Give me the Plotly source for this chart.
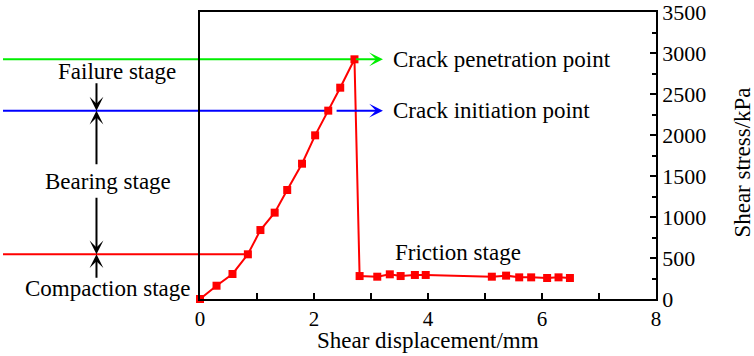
import plotly.graph_objects as go

# Data (shear displacement in mm, shear stress in kPa)
disp = [0.0, 0.29, 0.57, 0.84, 1.06, 1.31, 1.53, 1.79, 2.02, 2.25, 2.46, 2.71,
        2.80, 3.11, 3.33, 3.52, 3.77, 3.96, 5.12, 5.37, 5.60, 5.81, 6.09, 6.29, 6.49]
stress = [0, 162, 305, 545, 841, 1053, 1329, 1650, 1996, 2297, 2577, 2923,
          280, 272, 301, 280, 293, 293, 272, 285, 264, 264, 256, 264, 256]

x_ticks = [0, 2, 4, 6, 8]
y_ticks = [0, 500, 1000, 1500, 2000, 2500, 3000, 3500]
XMAX, YMAX = 8, 3500

i_comp, i_init, i_pen = 3, 9, 11  # indices of stage-boundary points

FONT = "Liberation Serif, Times New Roman, serif"

fig = go.Figure()
fig.add_trace(go.Scatter(
    x=disp, y=stress, mode="lines+markers",
    line=dict(color="#ff0000", width=2),
    marker=dict(symbol="square", size=8, color="#ff0000"),
    showlegend=False, cliponaxis=False, hoverinfo="skip",
))

shapes = []
left_x = -0.432
for idx, col in [(i_pen, "#00ee00"), (i_init, "#0000ff"), (i_comp, "#ff0000")]:
    shapes.append(dict(type="line", xref="paper", yref="paper", layer="below",
                       x0=left_x, x1=disp[idx] / XMAX,
                       y0=stress[idx] / YMAX, y1=stress[idx] / YMAX,
                       line=dict(color=col, width=2)))

ann = []
# Coloured arrows to the point labels
ann.append(dict(x=3.21, y=stress[i_pen], ax=disp[i_pen], ay=stress[i_pen], xref="x", yref="y",
                axref="x", ayref="y", text="", showarrow=True, arrowhead=3, arrowsize=1.15,
                arrowwidth=2, arrowcolor="#00ee00"))
ann.append(dict(x=3.21, y=stress[i_init], ax=2.37, ay=stress[i_init], xref="x", yref="y",
                axref="x", ayref="y", text="", showarrow=True, arrowhead=3, arrowsize=1.15,
                arrowwidth=2, arrowcolor="#0000ff"))

tf = dict(family=FONT, size=23, color="black")


def label(x, y, text, xanchor="center", xref="paper", yref="paper", angle=0):
    return dict(x=x, y=y, xref=xref, yref=yref, xanchor=xanchor, yanchor="middle",
                text=text, showarrow=False, font=tf, textangle=angle)


ann.append(label(0.419, stress[i_pen] / YMAX, "Crack penetration point", xanchor="left"))
ann.append(label(0.419, stress[i_init] / YMAX, "Crack initiation point", xanchor="left"))
ann.append(label(4.53, 573, "Friction stage", xref="x", yref="y"))
ann.append(label(-0.181, 0.791, "Failure stage"))
ann.append(label(-0.202, 0.408, "Bearing stage"))
ann.append(label(-0.203, 0.035, "Compaction stage"))

# Black stage arrows
ax_p = -0.227
for yv, off in [(stress[i_init], -29), (stress[i_init], 55), (stress[i_comp], -58), (stress[i_comp], 25)]:
    ann.append(dict(x=ax_p, y=yv / YMAX, xref="paper", yref="paper", ax=0, ay=off,
                    text="", showarrow=True, arrowhead=3, arrowsize=1.15, arrowwidth=2,
                    arrowcolor="black"))

# Axis titles
ann.append(label(1.19, 0.474, "Shear stress/kPa", angle=-90))
ann.append(label(0.5, -0.143, "Shear displacement/mm"))

fig.update_layout(
    width=754, height=356,
    margin=dict(l=200, r=98, t=12, b=57),
    paper_bgcolor="white", plot_bgcolor="rgba(0,0,0,0)",
    font=dict(family=FONT, size=22, color="black"),
    shapes=shapes, annotations=ann,
    xaxis=dict(range=[0, XMAX], tickvals=x_ticks, ticks="inside", ticklen=6, tickwidth=1.5,
               tickcolor="black", showgrid=False, zeroline=False, showline=True,
               linecolor="black", linewidth=1.5, mirror=True, automargin=False,
               ticklabeloverflow="allow",
               minor=dict(dtick=1, ticks="inside", ticklen=6, tickwidth=1.5, tickcolor="black", showgrid=False),
               tickfont=dict(size=21)),
    yaxis=dict(range=[0, YMAX], tickvals=y_ticks, side="right", ticks="inside", ticklen=6,
               tickwidth=1.5, tickcolor="black", showgrid=False, zeroline=False, showline=True,
               linecolor="black", linewidth=1.5, mirror=True, automargin=False,
               ticklabeloverflow="allow",
               minor=dict(dtick=250, ticks="inside", ticklen=4, tickwidth=1.5, tickcolor="black", showgrid=False),
               tickfont=dict(size=22)),
)

fig.write_html("out.html", config={"displayModeBar": False},
               post_script="document.body.style.margin='0';document.body.style.overflow='hidden';")
